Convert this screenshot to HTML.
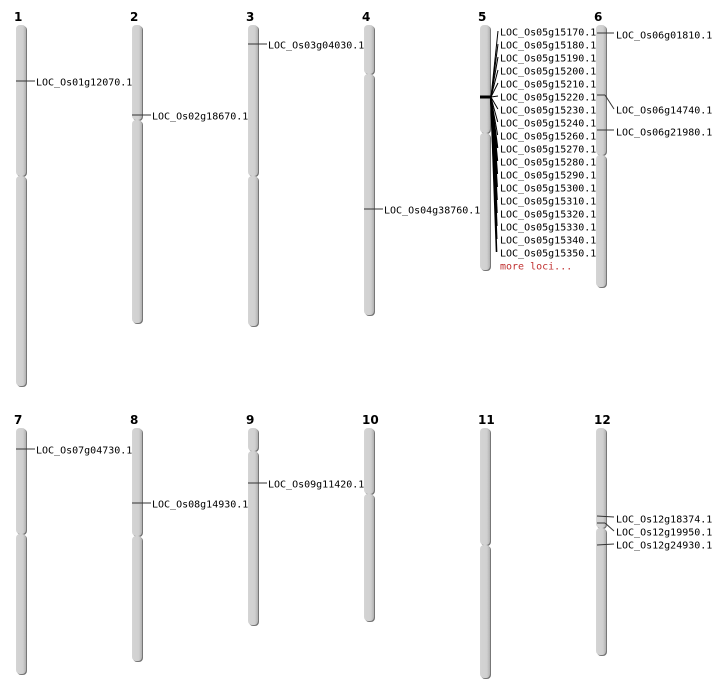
<!DOCTYPE html>
<html><head><meta charset="utf-8"><style>
html,body{margin:0;padding:0;background:#fff;}
svg{display:block;}
text{font-family:"DejaVu Sans Mono","Liberation Mono",monospace;font-size:10px;fill:#000;}
.n{font-family:"DejaVu Sans","Liberation Sans",sans-serif;font-size:12px;font-weight:bold;}
</style></head><body>
<svg id="s" width="712" height="700" viewBox="0 0 712 700" xmlns="http://www.w3.org/2000/svg"></svg>
<script>
var s=document.getElementById('s'),h='';
h+='<defs><linearGradient id="g" x1="0" x2="1"><stop offset="0" stop-color="#d4d4d4"/><stop offset="0.7" stop-color="#d0d0d0"/><stop offset="1" stop-color="#b0b0b0"/></linearGradient></defs>';
var chr=[[1,16,25,176,386],[2,132,25,120,323],[3,248,25,176,326],[4,364,25,74,315],[5,480,25,133,270],[6,596,25,155,287],
[7,16,428,534,674],[8,132,428,536,661],[9,248,428,451,625],[10,364,428,494,621],[11,480,428,545,678],[12,596,428,528,655]];
chr.forEach(function(c){var x=c[1],t=c[2],m=c[3],b=c[4];
h+='<text class="n" x="'+(x-2)+'" y="'+(t-4)+'">'+c[0]+'</text>';
function seg(y1,y2){h+='<rect x="'+(x+1)+'" y="'+(y1+1)+'" width="10" height="'+(y2-y1)+'" rx="4" fill="#777"/>';
h+='<rect x="'+x+'" y="'+y1+'" width="10" height="'+(y2-y1)+'" rx="4" fill="url(#g)"/>';}
seg(t,m);seg(m,b);});
function lab(x,y,t,col){h+='<text x="'+x+'" y="'+(y+4.5)+'"'+(col?' style="fill:'+col+'"':'')+'>'+t+'</text>';}
function ln(x1,y1,x2,y2,w){h+='<line x1="'+x1+'" y1="'+y1+'" x2="'+x2+'" y2="'+y2+'" stroke="#000" stroke-width="'+(w||1)+'"/>';}
function gray(x1,y1,x2,y2){h+='<line x1="'+x1+'" y1="'+y1+'" x2="'+x2+'" y2="'+y2+'" stroke="#333" stroke-width="1"/>';}
var simple=[[16,81,'LOC_Os01g12070.1'],[132,115,'LOC_Os02g18670.1'],[248,44,'LOC_Os03g04030.1'],[364,209,'LOC_Os04g38760.1'],
[16,449,'LOC_Os07g04730.1'],[132,503,'LOC_Os08g14930.1'],[248,483,'LOC_Os09g11420.1']];
simple.forEach(function(a){gray(a[0],a[1],a[0]+19,a[1]);lab(a[0]+20,a[1],a[2]);});
var ids=['15170','15180','15190','15200','15210','15220','15230','15240','15260','15270','15280','15290','15300','15310','15320','15330','15340','15350'];
ln(480,97,491,97,3);
ids.forEach(function(id,i){var y=31+13*i;ln(491,97+(i>5?(i-5)*0.3:0),498-(i>5?(i-5)*0.12:0),y,i>8?1.6:1);lab(500,y,'LOC_Os05g'+id+'.1');});
lab(500,265,'more loci...','#c03030');
gray(597,33,614,33);lab(616,34,'LOC_Os06g01810.1');
gray(597,95,605,95);gray(605,95,614,109);lab(616,109,'LOC_Os06g14740.1');
gray(597,130,614,130);lab(616,131,'LOC_Os06g21980.1');
gray(597,516,614,517);lab(616,518,'LOC_Os12g18374.1');
gray(597,523,605,523);gray(605,523,614,531);lab(616,531,'LOC_Os12g19950.1');
gray(597,545,614,544);lab(616,544,'LOC_Os12g24930.1');
s.innerHTML=h;
</script>
</body></html>
